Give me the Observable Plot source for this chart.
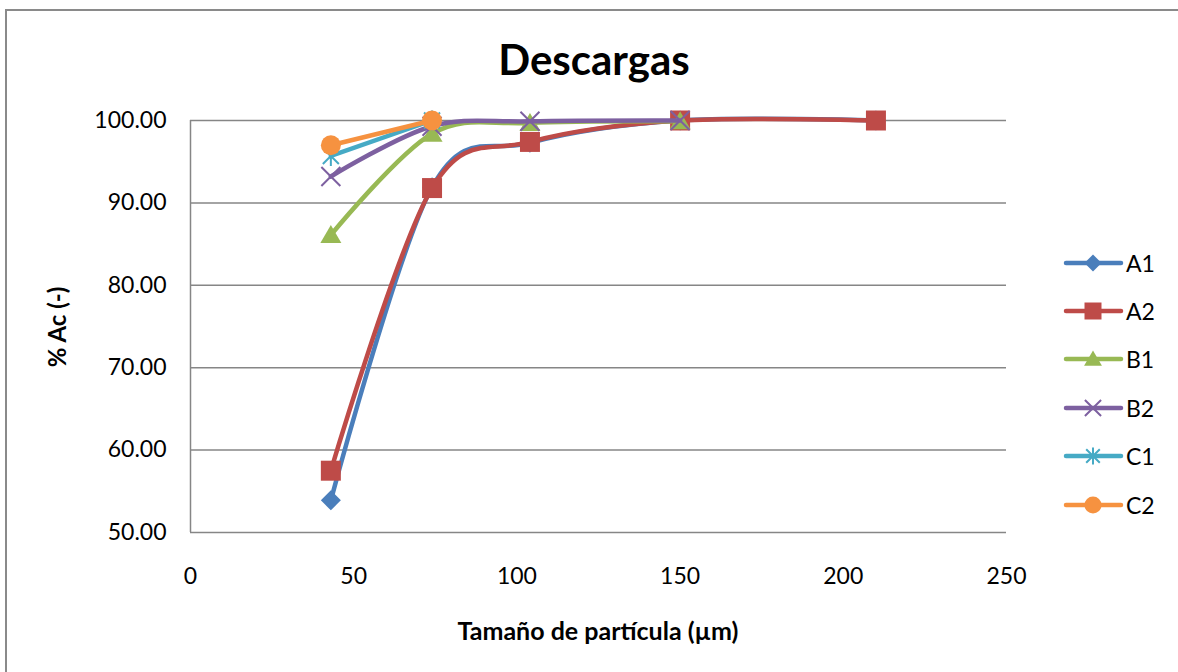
<!DOCTYPE html>
<html>
<head>
<meta charset="utf-8">
<script src="https://cdn.jsdelivr.net/npm/d3@7"></script>
<script src="https://cdn.jsdelivr.net/npm/@observablehq/plot@0.6"></script>
<style>
  html, body { margin: 0; padding: 0; background: #fff; }
  #wrap { position: relative; width: 1178px; height: 672px; overflow: hidden; font-family: Lato, "Open Sans", sans-serif; color: #000; }
  #frame { position: absolute; left: 5px; top: 9px; width: 1200px; height: 700px; border: 2px solid #8a8a8a; box-sizing: border-box; }
  #chart { position: absolute; left: 0; top: 0; }
  .title { position: absolute; left: 394px; width: 400px; top: 34px; text-align: center; font-weight: bold; font-size: 42px; line-height: 50px; }
  .xtitle { position: absolute; left: 398px; width: 400px; top: 615px; text-align: center; font-weight: bold; font-size: 25px; line-height: 30px; }
  .ytitle { position: absolute; left: 57px; top: 327px; transform: translate(-50%, -50%) rotate(-90deg); white-space: nowrap; font-weight: bold; font-size: 24px; line-height: 28px; }
  .leg { position: absolute; left: 1060px; height: 30px; display: flex; align-items: center; font-size: 23px; }
  .leg svg { display: block; margin-right: 2px; }
</style>
</head>
<body>
<div id="wrap">
  <div id="frame"></div>
  <div id="chart"></div>
  <div class="title">Descargas</div>
  <div class="xtitle">Tamaño de partícula (µm)</div>
  <div class="ytitle">% Ac (-)</div>
  <div id="legend"></div>
</div>
<script>
// ---- data ----
const seriesNames = ["A1", "A2", "B1", "B2", "C1", "C2"];
const xA1 = [43, 74, 104, 150, 210];
const yA1 = [53.9, 91.9, 97.3, 100.0, 100.0];
const xA2 = [43, 74, 104, 150, 210];
const yA2 = [57.5, 91.8, 97.4, 100.0, 100.0];
const xB1 = [43, 74, 104, 150];
const yB1 = [86.1, 98.4, 99.7, 99.9];
const xB2 = [43, 74, 104, 150];
const yB2 = [93.2, 99.3, 99.9, 100.0];
const xC1 = [43, 74];
const yC1 = [95.7, 100.0];
const xC2 = [43, 74];
const yC2 = [97.0, 100.0];
const xTicks = [0, 50, 100, 150, 200, 250];
const yTicks = [50, 60, 70, 80, 90, 100];

const colors = ["#4A7EBB", "#BE4B48", "#98B954", "#7D60A0", "#46AAC5", "#F69240"];

// custom marker shapes (r = sqrt(size/PI))
const sym = {
  diamond: { draw(c, s) { const r = Math.sqrt(s / Math.PI); c.moveTo(0, -r); c.lineTo(r, 0); c.lineTo(0, r); c.lineTo(-r, 0); c.closePath(); } },
  square: { draw(c, s) { const r = Math.sqrt(s / Math.PI); c.rect(-r, -r, 2 * r, 2 * r); } },
  triangle: { draw(c, s) { const r = Math.sqrt(s / Math.PI); c.moveTo(0, -r); c.lineTo(r * 1.05, r * 0.8); c.lineTo(-r * 1.05, r * 0.8); c.closePath(); } },
  times: { draw(c, s) { const r = Math.sqrt(s / Math.PI); c.moveTo(-r, -r); c.lineTo(r, r); c.moveTo(r, -r); c.lineTo(-r, r); } },
  asterisk: { draw(c, s) { const r = Math.sqrt(s / Math.PI); const q = r * 0.8; c.moveTo(-q, -q); c.lineTo(q, q); c.moveTo(q, -q); c.lineTo(-q, q); c.moveTo(0, -r); c.lineTo(0, r); } },
  circle: { draw(c, s) { const r = Math.sqrt(s / Math.PI); c.moveTo(r, 0); c.arc(0, 0, r, 0, 2 * Math.PI); } }
};
const markers = [
  { symbol: sym.diamond, r: 10, filled: true },
  { symbol: sym.square, r: 10, filled: true },
  { symbol: sym.triangle, r: 10, filled: true },
  { symbol: sym.times, r: 9.5, filled: false },
  { symbol: sym.asterisk, r: 10, filled: false },
  { symbol: sym.circle, r: 10, filled: true }
];

const xs = [xA1, xA2, xB1, xB2, xC1, xC2];
const ys = [yA1, yA2, yB1, yB2, yC1, yC2];
const data = seriesNames.map((name, i) => xs[i].map((x, j) => ({ series: name, x, y: ys[i][j] })));

const curve = d3.curveCatmullRom.alpha(0);

const seriesMarks = [];
seriesNames.forEach((name, i) => {
  const m = markers[i];
  seriesMarks.push(Plot.line(data[i], { x: "x", y: "y", stroke: colors[i], strokeWidth: 4.5, curve, strokeLinejoin: "round", strokeLinecap: "round" }));
  seriesMarks.push(Plot.dot(data[i], {
    x: "x", y: "y", r: m.r, symbol: m.symbol,
    fill: m.filled ? colors[i] : "none",
    stroke: m.filled ? "none" : colors[i],
    strokeWidth: m.filled ? 0 : 2
  }));
});

const chart = Plot.plot({
  width: 1178,
  height: 672,
  marginLeft: 190,
  marginRight: 172,
  marginTop: 120,
  marginBottom: 140,
  style: { fontFamily: "Lato, 'Open Sans', sans-serif", fontSize: "23px", color: "#000", background: "transparent", overflow: "visible" },
  x: { domain: [0, 250] },
  y: { domain: [50, 100] },
  marks: [
    Plot.gridY(yTicks.filter(d => d > 50), { stroke: "#868686", strokeOpacity: 1, strokeWidth: 1.5 }),
    Plot.ruleY([50], { stroke: "#868686", strokeWidth: 1.5 }),
    Plot.ruleX([0], { stroke: "#868686", strokeWidth: 1.5 }),
    Plot.axisY({ ticks: yTicks, tickSize: 0, tickPadding: 24, tickFormat: d3.format(".2f"), label: null, fontSize: 23 }),
    Plot.axisX({ ticks: xTicks, tickSize: 0, tickPadding: 35, tickFormat: d3.format("d"), label: null, fontSize: 23 }),
    ...seriesMarks
  ]
});
document.getElementById("chart").appendChild(chart);

// legend
const legend = d3.select("#legend");
const rowY = [263, 311, 359, 408, 456, 505];
seriesNames.forEach((name, i) => {
  const m = markers[i];
  const row = legend.append("div").attr("class", "leg").style("top", (rowY[i] - 15) + "px");
  const svg = row.append("svg").attr("width", 64).attr("height", 30);
  svg.append("line").attr("x1", 6).attr("x2", 61).attr("y1", 15).attr("y2", 15)
    .attr("stroke", colors[i]).attr("stroke-width", 4.5).attr("stroke-linecap", "round");
  const r = m.r * 0.85;
  svg.append("path").attr("transform", "translate(33,15)")
    .attr("d", d3.symbol(m.symbol, Math.PI * r * r)())
    .attr("fill", m.filled ? colors[i] : "none")
    .attr("stroke", m.filled ? "none" : colors[i])
    .attr("stroke-width", m.filled ? 0 : 2);
  row.append("span").text(name);
});
</script>
</body>
</html>
